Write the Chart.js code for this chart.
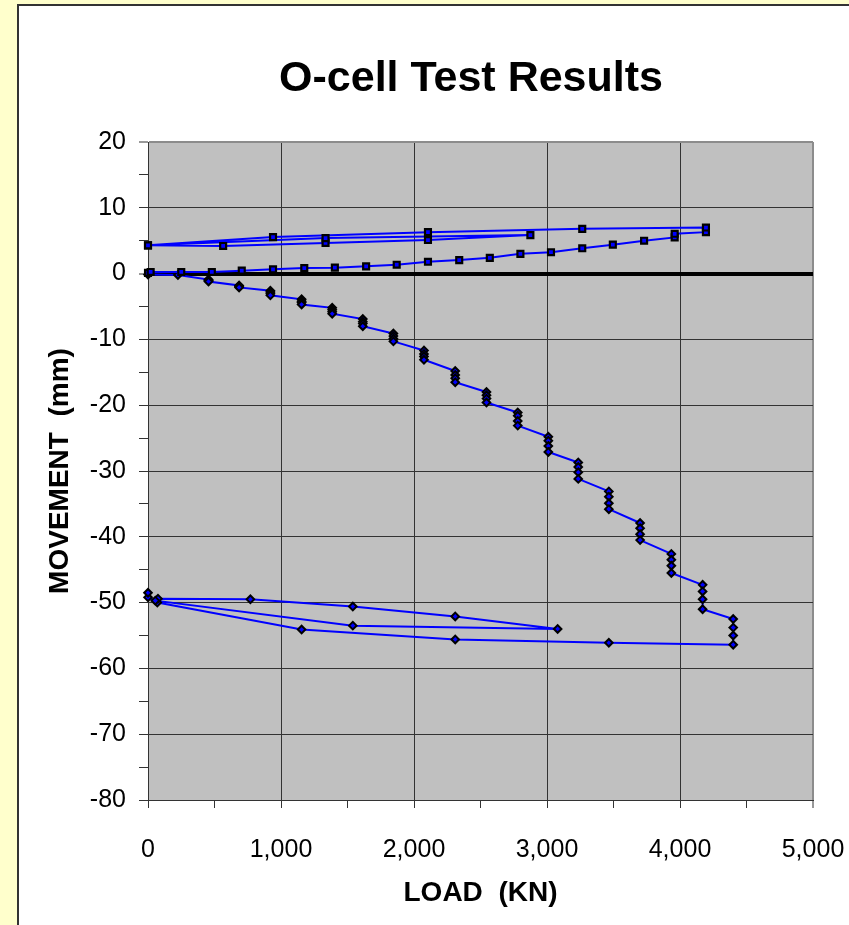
<!DOCTYPE html>
<html>
<head>
<meta charset="utf-8">
<title>O-cell Test Results</title>
<script src="https://cdn.jsdelivr.net/npm/chart.js@4.4.1/dist/chart.umd.min.js"></script>
<style>
  html, body { margin: 0; padding: 0; background: #FFFFCC; }
  canvas { display: block; }
</style>
</head>
<body>
<canvas id="ocell" width="849" height="925"></canvas>
<script>
// --- Data (load in kN, movement in mm, in time order) ---
// Upward movement of the O-cell top (square markers)
const upLoad = [0, 20, 250, 480, 705, 940, 1175, 1405, 1640, 1870, 2105, 2340, 2570, 2800, 3030, 3265, 3495, 3730, 3960, 3960, 4195, 4195,
                3265, 2105, 940, 0,
                565, 1335, 2105, 2875,
                1335, 0];
const upMove = [0.1, 0.25, 0.25, 0.25, 0.45, 0.65, 0.85, 0.9, 1.1, 1.35, 1.8, 2.05, 2.4, 3.0, 3.25, 3.85, 4.4, 5.0, 5.5, 6.05, 6.3, 7.0,
                6.8, 6.3, 5.55, 4.3,
                4.2, 4.65, 5.1, 5.85,
                5.4, 4.3];

// Downward movement of the O-cell base (diamond markers)
const downLoad = [0, 225,
                  455, 455, 455, 455, 685, 685, 685, 685, 920, 920, 920, 920, 1155, 1155, 1155, 1155,
                  1385, 1385, 1385, 1385, 1615, 1615, 1615, 1615, 1845, 1845, 1845, 1845, 2075, 2075, 2075, 2075,
                  2310, 2310, 2310, 2310, 2545, 2545, 2545, 2545, 2780, 2780, 2780, 2780, 3010, 3010, 3010, 3010,
                  3235, 3235, 3235, 3235, 3465, 3465, 3465, 3465, 3700, 3700, 3700, 3700, 3935, 3935, 3935, 3935,
                  4170, 4170, 4170, 4170, 4400, 4400, 4400, 4400,
                  3465, 2310, 1155, 70,
                  75, 770, 1540, 2310, 3080,
                  1540, 55, 0, 0];
const downMove = [-0.15, -0.2,
                  -0.9, -1.0, -1.1, -1.2, -1.8, -1.9, -2.0, -2.1, -2.6, -2.8, -3.0, -3.3, -3.9, -4.2, -4.4, -4.7,
                  -5.2, -5.5, -5.8, -6.1, -6.9, -7.3, -7.6, -8.0, -9.1, -9.5, -9.9, -10.3, -11.7, -12.2, -12.6, -13.1,
                  -14.8, -15.4, -15.9, -16.5, -18.0, -18.5, -19.0, -19.6, -21.1, -21.6, -22.4, -23.1, -24.8, -25.4, -26.2, -27.1,
                  -28.7, -29.4, -30.2, -31.2, -33.1, -33.9, -34.9, -35.8, -37.9, -38.7, -39.6, -40.5, -42.6, -43.5, -44.4, -45.5,
                  -47.3, -48.3, -49.5, -51.0, -52.5, -53.8, -55.0, -56.4,
                  -56.1, -55.6, -54.1, -50.0,
                  -49.4, -49.5, -50.6, -52.1, -54.0,
                  -53.5, -49.7, -49.2, -48.5];

// Labelled ticks (minor ticks in between carry no label)
const xTickLabels = [0, 1000, 2000, 3000, 4000, 5000];
const yTickLabels = [20, 10, 0, -10, -20, -30, -40, -50, -60, -70, -80];
const chartTitle = 'O-cell Test Results';

// --- Helpers ---
const FONT = "Arial, 'Liberation Sans', Helvetica, sans-serif";

function toPoints(xs, ys) {
    return xs.map((x, i) => ({ x: x, y: ys[i] }));
}

// Yellow page, white panel and grey plot area
const backdrop = {
    id: 'backdrop',
    beforeDraw(chart) {
        const { ctx, chartArea: a } = chart;
        ctx.save();
        ctx.fillStyle = '#FFFFCC';
        ctx.fillRect(0, 0, chart.width, chart.height);
        ctx.fillStyle = '#FFFFFF';
        ctx.fillRect(17, 4, chart.width, chart.height);
        ctx.fillStyle = '#333333';
        ctx.fillRect(17, 4, 2, chart.height);
        ctx.fillRect(17, 4, chart.width, 2);
        ctx.fillStyle = '#C0C0C0';
        ctx.fillRect(a.left, a.top, a.right - a.left, a.bottom - a.top);
        ctx.restore();
    }
};

// Title sits a little left of the plot centre, as in the original sheet
const chartHeading = {
    id: 'chartHeading',
    afterDraw(chart) {
        const c = chart.ctx;
        c.save();
        c.fillStyle = '#000000';
        c.font = 'bold 43px ' + FONT;
        c.textAlign = 'center';
        c.textBaseline = 'alphabetic';
        c.fillText(chartTitle, 471, 91);
        c.restore();
    }
};

// --- Chart ---
const ctx = document.getElementById('ocell').getContext('2d');

new Chart(ctx, {
    type: 'scatter',
    data: {
        datasets: [
            {
                label: 'Upward',
                data: toPoints(upLoad, upMove),
                showLine: true,
                borderColor: '#0000FF',
                borderWidth: 2,
                pointStyle: 'rect',
                pointRadius: 4.2,
                pointBackgroundColor: '#0000FF',
                pointBorderColor: '#000000',
                pointBorderWidth: 2.2,
                clip: false
            },
            {
                label: 'Downward',
                data: toPoints(downLoad, downMove),
                showLine: true,
                borderColor: '#0000FF',
                borderWidth: 2,
                pointStyle: 'rectRot',
                pointRadius: 3.8,
                pointBackgroundColor: '#0000FF',
                pointBorderColor: '#000000',
                pointBorderWidth: 2,
                clip: false
            }
        ]
    },
    options: {
        responsive: false,
        animation: false,
        layout: { padding: { left: 0, right: 36, top: 142, bottom: 0 } },
        plugins: {
            legend: { display: false },
            tooltip: { enabled: false },
            title: { display: false }
        },
        scales: {
            x: {
                type: 'linear',
                min: 0,
                max: 5000,
                afterFit: (scale) => {
                    scale.height = 125;
                    scale.paddingLeft = 0;
                    scale.paddingRight = 0;
                },
                ticks: {
                    stepSize: 500,
                    autoSkip: false,
                    maxRotation: 0,
                    padding: 27,
                    color: '#000000',
                    font: { family: FONT, size: 25 },
                    callback: (v) => xTickLabels.includes(v) ? v.toLocaleString('en-US') : ''
                },
                grid: {
                    color: (c) => {
                        const v = c.tick ? c.tick.value : 0;
                        if (v === 5000) return '#8C8C8C';
                        return v % 1000 === 0 ? '#333333' : 'rgba(0,0,0,0)';
                    },
                    lineWidth: (c) => (c.tick && c.tick.value === 5000) ? 2 : 1,
                    tickColor: '#333333',
                    tickWidth: 1,
                    tickLength: 8
                },
                border: { display: true, color: '#333333', width: 1 },
                title: {
                    display: true,
                    text: 'LOAD  (KN)',
                    color: '#000000',
                    font: { family: FONT, size: 28, weight: 'bold' },
                    padding: { top: 0, bottom: 15 }
                }
            },
            y: {
                type: 'linear',
                min: -80,
                max: 20,
                afterFit: (scale) => { scale.width = 148; },
                ticks: {
                    stepSize: 5,
                    autoSkip: false,
                    padding: 13,
                    color: '#000000',
                    font: { family: FONT, size: 25 },
                    callback: (v) => yTickLabels.includes(v) ? String(v) : ''
                },
                grid: {
                    color: (c) => {
                        const v = c.tick ? c.tick.value : 0;
                        if (v === 20) return '#8C8C8C';
                        if (v === 0) return '#000000';
                        return v % 10 === 0 ? '#333333' : 'rgba(0,0,0,0)';
                    },
                    lineWidth: (c) => {
                        const v = c.tick ? c.tick.value : 1;
                        if (v === 0) return 4;
                        if (v === 20) return 2;
                        return 1;
                    },
                    tickColor: '#333333',
                    tickWidth: 1,
                    tickLength: 9
                },
                border: { display: true, color: '#333333', width: 1 },
                title: {
                    display: true,
                    text: 'MOVEMENT  (mm)',
                    color: '#000000',
                    font: { family: FONT, size: 28, weight: 'bold' },
                    padding: { top: 43, bottom: 0 }
                }
            }
        }
    },
    plugins: [backdrop, chartHeading]
});
</script>
</body>
</html>
